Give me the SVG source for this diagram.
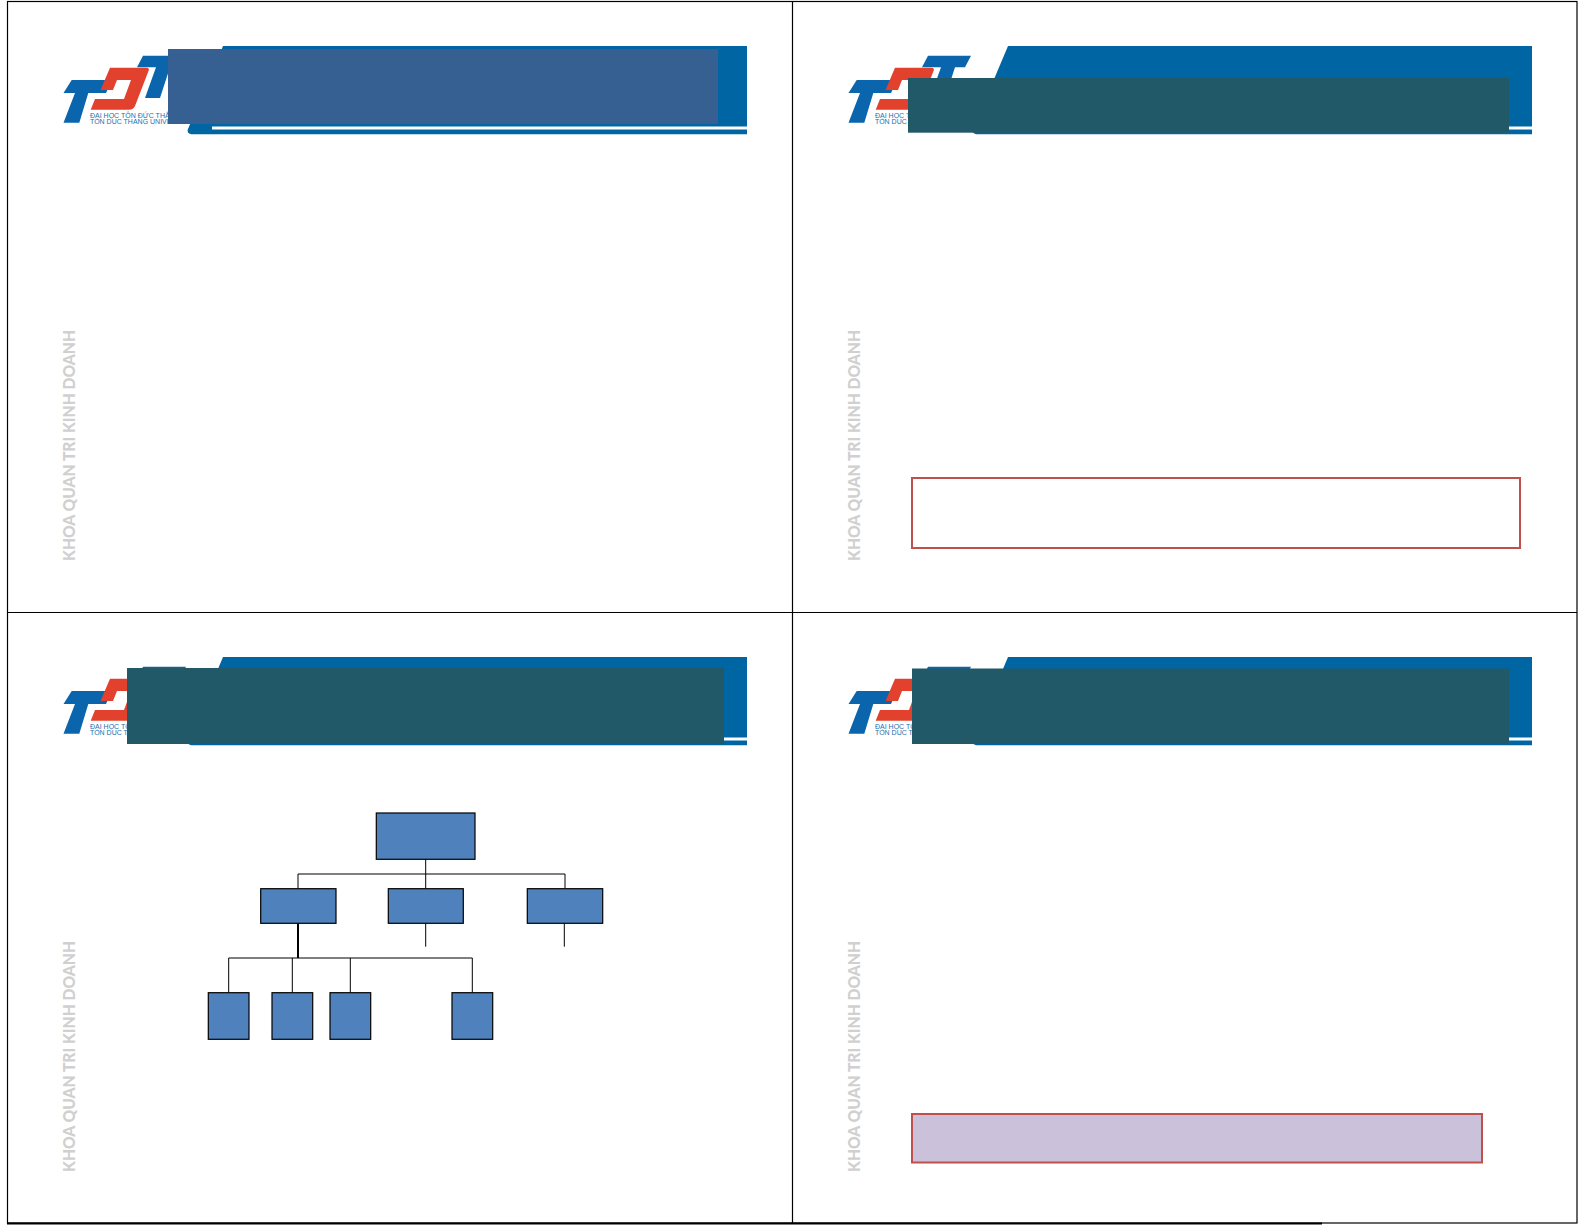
<svg xmlns="http://www.w3.org/2000/svg" width="1585" height="1225" viewBox="0 0 1585 1225">
<style>
.frame{fill:none;stroke:#000;stroke-width:1.2}
.blue{fill:#0066a3}
.logoblue{fill:#0a65ad}
.red{fill:#e1412d}
.stripe{fill:#fff}
.side{font-family:Lato,"Open Sans",sans-serif;font-weight:900;font-size:17.5px;fill:#d0d0d0}
.lt{font-family:"Liberation Sans",sans-serif;font-size:7px;fill:#1d6fb0}
.c1{fill:#376092}
.c2{fill:#215968}
.box{fill:#4f81bd;stroke:#000;stroke-width:1.2}
.link{fill:none;stroke:#000;stroke-width:1}
.note{stroke:#c0504d;stroke-width:2}
</style>
<defs>
<g id="tmpl">
<path class="blue" d="M223,46H747V134.300H194Q186,134.300 188,129Z"/>
<rect class="stripe" x="212" y="126.500" width="535" height="3"/>
<path class="logoblue" d="M143,55.700H186L180,67.300H170L160,98H145L156,67.300H137Z"/>
<path class="logoblue" d="M71.700,80H112L106,93H88.300L79.300,122.700H63.500L75,93H63.500Z"/>
<path class="red" d="M110,67.700H146Q150,67.700 148.500,71L135,106Q133.500,109.700 129,109.700H90.700L95,99H124L131,80H117L113,90H100.500Z"/>
<text class="lt" x="90" y="117.500">ĐẠI HỌC TÔN ĐỨC THẮNG</text>
<text class="lt" x="90" y="123.500">TON DUC THANG UNIVERSITY</text>
<text class="side" transform="translate(75,561) rotate(-90)" textLength="231" lengthAdjust="spacingAndGlyphs">KHOA QUAN TRI KINH DOANH</text>
</g>
</defs>
<rect width="1585" height="1225" fill="#fff"/>

<g id="frame">
<rect class="frame" x="7.500" y="1.500" width="1569.500" height="1221.500"/>
<path class="frame" d="M792.500,1.500V1223M7.500,612.500H1577"/>
<rect x="7" y="1222.500" width="1315" height="2" fill="#000"/>
</g>

<g id="panel-1">
<use href="#tmpl"/>
<rect class="c1" x="168" y="49" width="550" height="75"/>
</g>

<g id="panel-2">
<use href="#tmpl" x="785"/>
<rect class="c2" x="908" y="78" width="601" height="54.700"/>
<rect id="note-1" class="note" x="912" y="478" width="608" height="70" fill="#fff"/>
</g>

<g id="panel-3">
<use href="#tmpl" y="611"/>
<rect class="c2" x="127" y="668" width="597" height="76"/>
</g>

<g id="panel-4">
<use href="#tmpl" x="785" y="611"/>
<rect class="c2" x="912" y="668.500" width="597" height="75.500"/>
<rect id="note-2" class="note" x="912" y="1114" width="570" height="48.500" fill="#ccc1da"/>
</g>

<g id="connectors">
<path class="link" d="M425.700,859V888.700M298,888.700V874H565V888.700M425.700,923.300V946.700M564.300,923.300V946.700"/>
<path class="link" d="M228.700,992.700V958H472.300V992.700M292.300,958V992.700M350.300,958V992.700"/>
<path class="link" style="stroke-width:2" d="M298,923.300V958"/>
</g>

<g id="node-root"><rect class="box" x="376.300" y="813" width="98.700" height="46.300"/></g>
<g id="node-a"><rect class="box" x="260.700" y="888.700" width="75.300" height="34.600"/></g>
<g id="node-b"><rect class="box" x="388.300" y="888.700" width="75" height="34.600"/></g>
<g id="node-c"><rect class="box" x="527.300" y="888.700" width="75.400" height="34.600"/></g>
<g id="node-a1"><rect class="box" x="208.300" y="992.700" width="40.700" height="46.600"/></g>
<g id="node-a2"><rect class="box" x="272" y="992.700" width="40.700" height="46.600"/></g>
<g id="node-a3"><rect class="box" x="330" y="992.700" width="40.700" height="46.600"/></g>
<g id="node-a4"><rect class="box" x="452" y="992.700" width="40.700" height="46.600"/></g>
</svg>
